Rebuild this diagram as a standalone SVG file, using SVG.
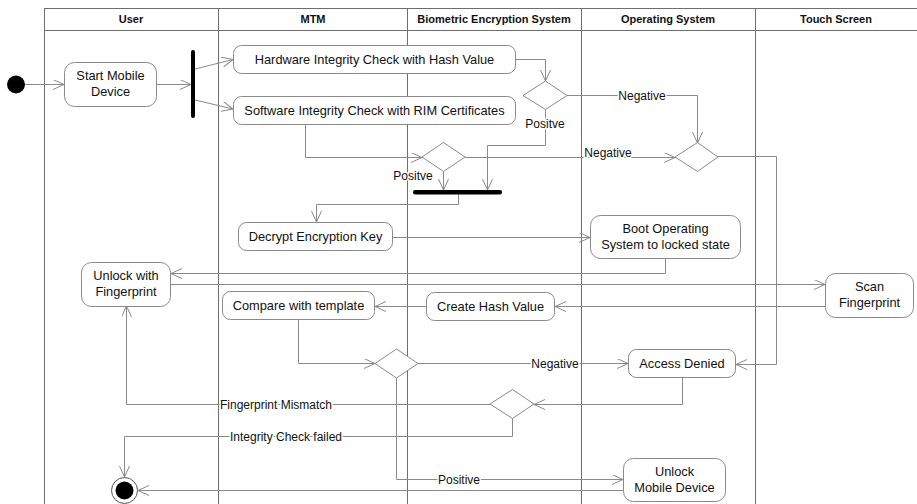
<svg xmlns="http://www.w3.org/2000/svg" width="917" height="504" viewBox="0 0 917 504">
<style>
.lane{stroke:#6e6e6e;stroke-width:1;fill:none}
.hdr{font-family:"Liberation Sans",Arial,sans-serif;font-weight:bold;font-size:11px;fill:#111;text-anchor:middle}
.node{fill:#fff;stroke:#8a8a8a;stroke-width:1}
.txt{font-family:"Liberation Sans",Arial,sans-serif;font-size:12.8px;fill:#111;text-anchor:middle}
.c{fill:none;stroke:#8a8a8a;stroke-width:1;marker-end:url(#ah)}
.lbl{font-family:"Liberation Sans",Arial,sans-serif;font-size:12px;fill:#111;text-anchor:middle;stroke:#fff;stroke-width:3;paint-order:stroke}
</style>
<defs>
<marker id="ah" markerUnits="userSpaceOnUse" markerWidth="14" markerHeight="12" refX="11" refY="5" orient="auto">
<path d="M0,0 L11,5 L0,10" fill="none" stroke="#8a8a8a" stroke-width="1"/>
</marker>
</defs>
<rect width="917" height="504" fill="#fff"/>
<g id="swimlanes">
<line class="lane" x1="44" y1="8.5" x2="917" y2="8.5"/>
<line class="lane" x1="44" y1="30.5" x2="917" y2="30.5"/>
<line class="lane" x1="44.5" y1="8" x2="44.5" y2="504"/>
<line class="lane" x1="218.5" y1="8" x2="218.5" y2="504"/>
<line class="lane" x1="407.5" y1="8" x2="407.5" y2="504"/>
<line class="lane" x1="581.5" y1="8" x2="581.5" y2="504"/>
<line class="lane" x1="755.5" y1="8" x2="755.5" y2="504"/>
<text class="hdr" x="131" y="23">User</text>
<text class="hdr" x="313" y="23">MTM</text>
<text class="hdr" x="494" y="23">Biometric Encryption System</text>
<text class="hdr" x="668" y="23">Operating System</text>
<text class="hdr" x="836" y="23">Touch Screen</text>
</g>
<g id="connectors">
<path class="c" d="M25,84.5 H64"/>
<path class="c" d="M157,84.5 H191"/>
<path class="c" d="M195,69 L233,59.5"/>
<path class="c" d="M195,100 L233,109"/>
<path class="c" d="M516,59.5 H545.5 V81"/>
<path class="c" d="M567,95.5 H697.5 V143"/>
<path class="c" d="M545.5,109 V145.5 H487.5 V190"/>
<path class="c" d="M305.5,124 V157.5 H422"/>
<path class="c" d="M443.5,171 V190"/>
<path class="c" d="M465,157.5 H675"/>
<path class="c" d="M718,156.5 H776.5 V364.5 H736"/>
<path class="c" d="M458.5,194 V204.5 H316.5 V222"/>
<path class="c" d="M393,237.5 H590"/>
<path class="c" d="M665.5,258 V273.5 H171"/>
<path class="c" d="M171,284.5 H825"/>
<path class="c" d="M825,306.5 H555"/>
<path class="c" d="M426,306.5 H375"/>
<path class="c" d="M298.5,319 V363.5 H375"/>
<path class="c" d="M418,363.5 H628"/>
<path class="c" d="M682.5,377 V404.5 H534"/>
<path class="c" d="M490,404.5 H126.5 V306"/>
<path class="c" d="M512.5,418 V436.5 H124.5 V477"/>
<path class="c" d="M396.5,378 V479.5 H623"/>
<path class="c" d="M623,490.5 H138"/>
<text class="lbl" x="642" y="99.5">Negative</text>
<text class="lbl" x="545" y="128">Positve</text>
<text class="lbl" x="413" y="180">Positve</text>
<text class="lbl" x="608" y="157">Negative</text>
<text class="lbl" x="555" y="368">Negative</text>
<text class="lbl" x="276" y="408.5">Fingerprint Mismatch</text>
<text class="lbl" x="286" y="440.5">Integrity Check failed</text>
<text class="lbl" x="459" y="483.5">Positive</text>
</g>
<g id="initial"><circle cx="16" cy="84.5" r="9" fill="#000"/></g>
<g id="start-mobile-device">
<rect class="node" x="64.5" y="62.5" width="92" height="44" rx="10"/>
<text class="txt" x="110.5" y="80">Start Mobile</text>
<text class="txt" x="110.5" y="96">Device</text>
</g>
<g id="fork"><rect x="191" y="50" width="4" height="68" rx="2" fill="#000"/></g>
<g id="hw-check">
<rect class="node" x="233.5" y="45.5" width="282" height="28" rx="8"/>
<text class="txt" x="374.5" y="64">Hardware Integrity Check with Hash Value</text>
</g>
<g id="sw-check">
<rect class="node" x="233.5" y="96.5" width="282" height="28" rx="8"/>
<text class="txt" x="374.5" y="115">Software Integrity Check with RIM Certificates</text>
</g>
<g id="decision1"><path class="node" d="M523,95.5 L545.5,81 L567,95.5 L545.5,109.5 Z"/></g>
<g id="decision2"><path class="node" d="M422,157 L443.5,142.5 L465,157 L443.5,171.5 Z"/></g>
<g id="decision3"><path class="node" d="M675,157 L697.5,142.5 L718,157 L697.5,171.5 Z"/></g>
<g id="join"><rect x="413" y="190" width="89" height="4.5" rx="2" fill="#000"/></g>
<g id="decrypt">
<rect class="node" x="238.5" y="222.5" width="154" height="28" rx="8"/>
<text class="txt" x="315.5" y="241">Decrypt Encryption Key</text>
</g>
<g id="boot-os">
<rect class="node" x="590.5" y="215.5" width="150" height="43" rx="10"/>
<text class="txt" x="665.5" y="233">Boot Operating</text>
<text class="txt" x="665.5" y="248.5">System to locked state</text>
</g>
<g id="unlock-fp">
<rect class="node" x="81.5" y="262.5" width="89" height="44" rx="10"/>
<text class="txt" x="126" y="280">Unlock with</text>
<text class="txt" x="126" y="295.5">Fingerprint</text>
</g>
<g id="scan-fp">
<rect class="node" x="825.5" y="273.5" width="88" height="44" rx="10"/>
<text class="txt" x="869.5" y="291">Scan</text>
<text class="txt" x="869.5" y="306.5">Fingerprint</text>
</g>
<g id="create-hash">
<rect class="node" x="426.5" y="292.5" width="128" height="28" rx="8"/>
<text class="txt" x="490.5" y="311">Create Hash Value</text>
</g>
<g id="compare">
<rect class="node" x="222.5" y="291.5" width="152" height="28" rx="8"/>
<text class="txt" x="298.5" y="310">Compare with template</text>
</g>
<g id="decision4"><path class="node" d="M375,363.5 L396.5,349 L418,363.5 L396.5,378 Z"/></g>
<g id="access-denied">
<rect class="node" x="628.5" y="349.5" width="107" height="28" rx="8"/>
<text class="txt" x="682" y="368">Access Denied</text>
</g>
<g id="decision5"><path class="node" d="M490,404 L512.5,389.5 L534,404 L512.5,418.5 Z"/></g>
<g id="unlock-device">
<rect class="node" x="623.5" y="458.5" width="102" height="43" rx="10"/>
<text class="txt" x="674.5" y="476">Unlock</text>
<text class="txt" x="674.5" y="491.5">Mobile Device</text>
</g>
<g id="final">
<circle cx="124.5" cy="490.5" r="13" fill="#fff" stroke="#555" stroke-width="1"/>
<circle cx="124.5" cy="490.5" r="9" fill="#000"/>
</g>
</svg>
